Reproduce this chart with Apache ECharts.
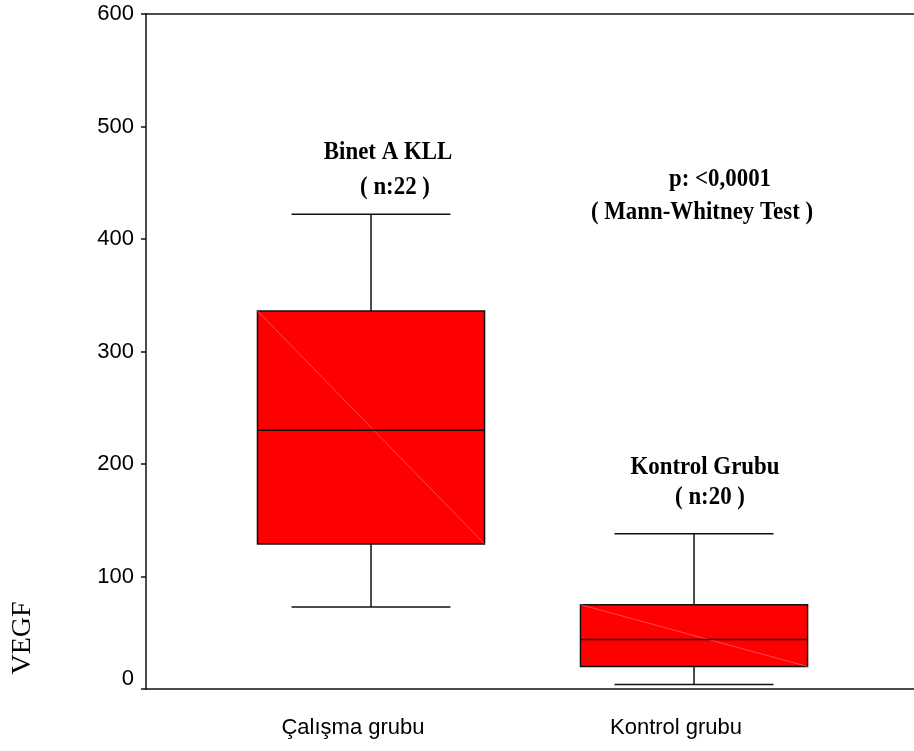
<!DOCTYPE html>
<html>
<head>
<meta charset="utf-8">
<title>VEGF boxplot</title>
<script src="https://cdn.jsdelivr.net/npm/echarts@6/dist/echarts.min.js"></script>
<style>
  html, body { margin: 0; padding: 0; background: #fff; }
  #chart { width: 914px; height: 751px; }
</style>
</head>
<body>
<div id="chart"></div>
<script>
// groups on the x axis
const groups = ['Çalışma grubu', 'Kontrol grubu'];
const groupPos = [1, 2];
// box values: min, Q1, median, Q3, max
const lowWhisker = [73, 4];
const q1 = [129, 20];
const median = [230, 44];
const q3 = [336, 75];
const highWhisker = [422, 138];
// y ticks
const yTicks = [0, 100, 200, 300, 400, 500, 600];

const BOX_W = 0.703;   // in x units
const CAP_W = 0.492;
const FONT = "'Liberation Sans', Arial, sans-serif";
const SERIF = "'Liberation Serif', 'Times New Roman', serif";

const boxData = groupPos.map((x, i) => [x, lowWhisker[i], q1[i], median[i], q3[i], highWhisker[i]]);

const chart = echarts.init(document.getElementById('chart'));

function renderBox(params, api) {
  const x = api.value(0);
  const pMin = api.coord([x, api.value(1)]);
  const pQ1 = api.coord([x, api.value(2)]);
  const pMed = api.coord([x, api.value(3)]);
  const pQ3 = api.coord([x, api.value(4)]);
  const pMax = api.coord([x, api.value(5)]);
  const half = api.size([BOX_W, 0])[0] / 2;
  const cap = api.size([CAP_W, 0])[0] / 2;
  const cx = pMed[0];
  const line = { stroke: '#111', lineWidth: 1.5 };
  return {
    type: 'group',
    children: [
      { type: 'line', shape: { x1: cx, y1: pMax[1], x2: cx, y2: pQ3[1] }, style: line },
      { type: 'line', shape: { x1: cx, y1: pQ1[1], x2: cx, y2: pMin[1] }, style: line },
      { type: 'line', shape: { x1: cx - cap, y1: pMax[1], x2: cx + cap, y2: pMax[1] }, style: line },
      { type: 'line', shape: { x1: cx - cap, y1: pMin[1], x2: cx + cap, y2: pMin[1] }, style: line },
      {
        type: 'rect',
        shape: { x: cx - half, y: pQ3[1], width: half * 2, height: pQ1[1] - pQ3[1] },
        style: { fill: '#ff0000', stroke: '#111', lineWidth: 1.5 }
      },
      // faint diagonal seen inside the boxes
      {
        type: 'line',
        shape: { x1: cx - half, y1: pQ3[1], x2: cx + half, y2: pQ1[1] },
        style: { stroke: 'rgba(255,150,150,0.7)', lineWidth: 0.7 }
      },
      { type: 'line', shape: { x1: cx - half, y1: pMed[1], x2: cx + half, y2: pMed[1] }, style: line }
    ]
  };
}

function note(text, x, y) {
  return {
    type: 'text',
    x: x,
    y: y,
    scaleX: 0.88,
    style: {
      text: text,
      font: 'bold 26px ' + SERIF,
      fill: '#000',
      align: 'center',
      verticalAlign: 'middle'
    }
  };
}

const option = {
  animation: false,
  backgroundColor: '#fff',
  grid: { left: 146, right: 0, top: 14, bottom: 62 },
  xAxis: [
    {
      type: 'value',
      min: 0.3034,
      max: 2.681,
      axisLine: { show: true, lineStyle: { color: '#111', width: 1.5 } },
      axisTick: { show: false },
      splitLine: { show: false },
      axisLabel: {
        customValues: groupPos,
        formatter: v => groups[groupPos.indexOf(v)] || '',
        color: '#000',
        fontFamily: FONT,
        fontSize: 22,
        margin: 28,
        padding: [0, 36, 0, 0]
      }
    },
    {
      type: 'value',
      position: 'top',
      min: 0.3034,
      max: 2.681,
      axisLine: { show: true, lineStyle: { color: '#111', width: 1.5 } },
      axisTick: { show: false },
      axisLabel: { show: false },
      splitLine: { show: false }
    }
  ],
  yAxis: {
    type: 'value',
    min: yTicks[0],
    max: yTicks[yTicks.length - 1],
    interval: 100,
    axisLine: { show: true, lineStyle: { color: '#111', width: 1.5 } },
    axisTick: { show: true, length: 5, lineStyle: { color: '#111', width: 1.5 } },
    splitLine: { show: false },
    axisLabel: {
      color: '#000',
      fontFamily: FONT,
      fontSize: 22,
      margin: 12,
      formatter: v => (v === 0 ? '{z|0}' : String(v)),
      rich: { z: { fontFamily: FONT, fontSize: 22, color: '#000', padding: [0, 0, 20, 0] } }
    }
  },
  series: [
    {
      type: 'custom',
      xAxisIndex: 0,
      renderItem: renderBox,
      encode: { x: 0, y: [1, 2, 3, 4, 5] },
      data: boxData
    }
  ],
  graphic: [
    {
      type: 'text',
      x: 23,
      y: 638,
      rotation: Math.PI / 2,
      style: {
        text: 'VEGF',
        font: '28px ' + SERIF,
        fill: '#000',
        align: 'center',
        verticalAlign: 'middle'
      }
    },
    note('Binet A KLL', 388, 152),
    note('( n:22 )', 395, 187),
    note('p: <0,0001', 720, 179),
    note('( Mann-Whitney Test )', 702, 212),
    note('Kontrol Grubu', 705, 467),
    note('( n:20 )', 710, 497)
  ]
};

chart.setOption(option);
</script>
</body>
</html>
